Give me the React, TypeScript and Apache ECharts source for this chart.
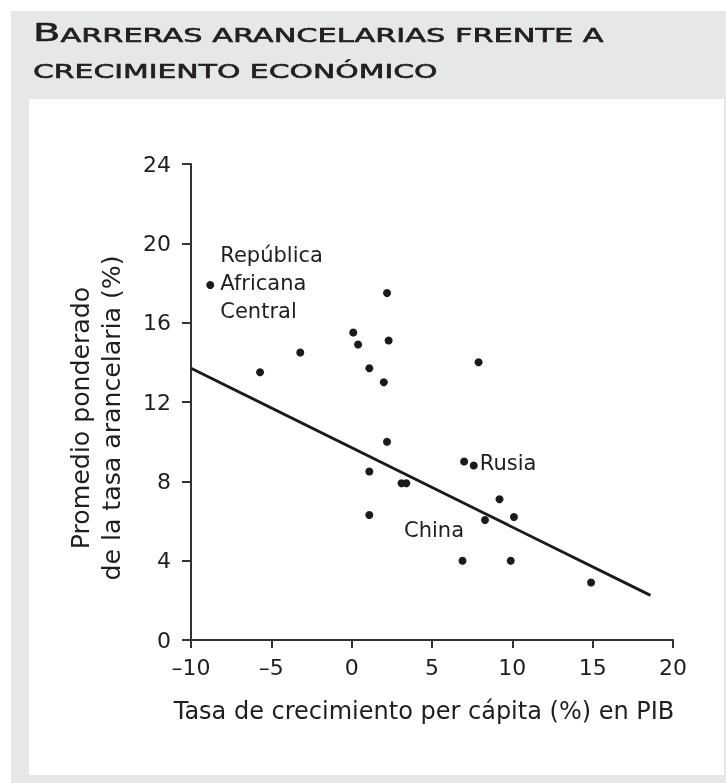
import React, { useEffect, useRef } from "react";
import * as echarts from "echarts";

// Data
const growth = [-8.8, -5.7, -3.2, 0.1, 0.4, 1.1, 2.0, 2.2, 2.3, 7.9, 2.2, 1.1, 3.1, 3.4, 1.1, 7.0, 7.6, 9.2, 10.1, 8.3, 6.9, 9.9, 14.9];
const tariff = [17.9, 13.5, 14.5, 15.5, 14.9, 13.7, 13.0, 17.5, 15.1, 14.0, 10.0, 8.5, 7.9, 7.9, 6.3, 9.0, 8.8, 7.1, 6.2, 6.05, 4.0, 4.0, 2.9];
const countryNames = ["República\nAfricana\nCentral", "", "", "", "", "", "", "", "", "", "", "", "", "", "", "", "Rusia", "", "", "China", "", "", ""];
const trendX = [-10, 18.6];
const trendY = [13.7, 2.25];
const xTicks = { min: -10, max: 20, interval: 5 };
const yTicks = { min: 0, max: 24, interval: 4 };

const titleLine1Big = "B";
const titleLine1Small = "ARRERAS ARANCELARIAS FRENTE A";
const titleLine2 = "CRECIMIENTO ECONÓMICO";
const xName = "Tasa de crecimiento per cápita (%) en PIB";
const yName = "Promedio ponderado\nde la tasa arancelaria (%)";

const FONT = "'DejaVu Sans', sans-serif";
const TXT = "#1e1e1e";
const INK = "#1a1a1a";
const TITLE = "#231f20";

const labelPlacement: Record<string, any> = {
  "República\nAfricana\nCentral": { position: "right", distance: 6, offset: [0, -2], lineHeight: 28 },
  Rusia: { position: "right", distance: 2, offset: [0, -2] },
  China: { position: "left", distance: 17, offset: [0, 10] },
};

export default function App() {
  const ref = useRef<HTMLDivElement>(null);
  useEffect(() => {
    if (!ref.current) return;
    const chart = echarts.init(ref.current, undefined, { renderer: "svg" });
    const points = growth.map((g, i) => {
      const name = countryNames[i];
      const item: any = { value: [g, tariff[i]] };
      if (name) {
        const p = labelPlacement[name];
        item.label = {
          show: true,
          formatter: name,
          position: p.position,
          distance: p.distance,
          offset: p.offset,
          fontFamily: FONT,
          fontSize: 21,
          color: TXT,
          lineHeight: p.lineHeight || 26,
          align: p.position === "left" ? "right" : "left",
        };
      }
      return item;
    });
    const option: any = {
      animation: false,
      graphic: [
        { type: "rect", z: -10, shape: { x: 11, y: 11, width: 715, height: 772 }, style: { fill: "#e6e7e8" }, silent: true },
        { type: "rect", z: -9, shape: { x: 29, y: 99, width: 695, height: 676 }, style: { fill: "#ffffff" }, silent: true },
        {
          type: "text",
          x: 33,
          y: 45,
          scaleX: 1.6,
          style: {
            text: `{b|${titleLine1Big}}{s|${titleLine1Small}}`,
            fill: TITLE,
            verticalAlign: "bottom",
            rich: {
              b: { fontSize: 25, fontFamily: FONT, fill: TITLE, stroke: TITLE, lineWidth: 0.6, verticalAlign: "bottom", lineHeight: 30 },
              s: { fontSize: 19, fontFamily: FONT, fill: TITLE, stroke: TITLE, lineWidth: 0.6, verticalAlign: "bottom", lineHeight: 30 },
            },
          },
        },
        {
          type: "text",
          x: 33,
          y: 87,
          scaleX: 1.57,
          style: {
            text: titleLine2,
            fill: TITLE,
            stroke: TITLE,
            lineWidth: 0.6,
            fontSize: 19,
            fontFamily: FONT,
            lineHeight: 30,
            verticalAlign: "bottom",
          },
        },
        {
          type: "text",
          x: 96,
          y: 418,
          rotation: Math.PI / 2,
          scaleX: 1.05,
          style: {
            text: yName,
            fill: TXT,
            fontSize: 24,
            fontFamily: FONT,
            lineHeight: 31,
            align: "center",
            verticalAlign: "middle",
          },
        },
      ],
      grid: { left: 191, top: 164, right: 53, bottom: 143, containLabel: false },
      xAxis: {
        type: "value",
        min: xTicks.min,
        max: xTicks.max,
        interval: xTicks.interval,
        name: xName,
        nameLocation: "middle",
        nameGap: 59,
        nameTextStyle: { fontFamily: FONT, fontSize: 24, color: TXT, padding: [0, 16, 0, 0] },
        axisLine: { show: true, onZero: false, lineStyle: { color: "#333", width: 2 } },
        axisTick: { show: true, length: 8, lineStyle: { color: "#333", width: 2 } },
        splitLine: { show: false },
        axisLabel: {
          fontFamily: FONT,
          fontSize: 22,
          color: TXT,
          margin: 16,
          formatter: (v: number) => (v < 0 ? "\u2013" + Math.abs(v) : String(v)),
        },
      },
      yAxis: {
        type: "value",
        min: yTicks.min,
        max: yTicks.max,
        interval: yTicks.interval,
        axisLine: { show: true, onZero: false, lineStyle: { color: "#333", width: 2 } },
        axisTick: { show: true, length: 9, lineStyle: { color: "#333", width: 2 } },
        splitLine: { show: false },
        axisLabel: { fontFamily: FONT, fontSize: 22, color: TXT, margin: 20 },
      },
      series: [
        {
          type: "line",
          data: trendX.map((x, i) => [x, trendY[i]]),
          symbol: "none",
          lineStyle: { color: INK, width: 2.8 },
          silent: true,
          z: 2,
        },
        {
          type: "scatter",
          data: points,
          symbol: "circle",
          symbolSize: 8,
          itemStyle: { color: INK, opacity: 1 },
          z: 3,
        },
      ],
    };
    chart.setOption(option);
    return () => chart.dispose();
  }, []);
  return <div ref={ref} style={{ position: "fixed", left: 0, top: 0, width: 726, height: 783 }} />;
}
